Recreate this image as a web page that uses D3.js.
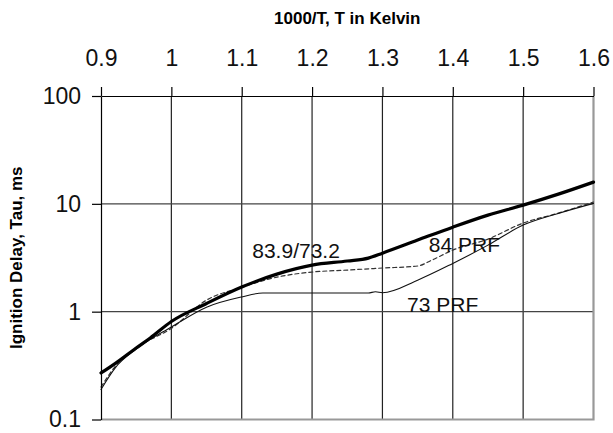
<!DOCTYPE html>
<html>
<head>
<meta charset="utf-8">
<script src="https://cdn.jsdelivr.net/npm/d3@7"></script>
<style>
	html, body { margin: 0; padding: 0; background: #fff; }
	svg { display: block; font-family: "Liberation Sans", Arial, sans-serif; }
</style>
</head>
<body>
<div id="chart"></div>
<script>
/* Axis ticks */
const xTicks = [0.9, 1.0, 1.1, 1.2, 1.3, 1.4, 1.5, 1.6];
const xTickLabels = ["0.9", "1", "1.1", "1.2", "1.3", "1.4", "1.5", "1.6"];
const yTicks = [0.1, 1, 10, 100];
const yTickLabels = ["0.1", "1", "10", "100"];

/* 83.9/73.2 blend (thick line) */
const blendX = [0.9, 0.92, 0.95, 0.97, 1.0, 1.05, 1.1, 1.15, 1.2, 1.25, 1.28, 1.3, 1.35, 1.4, 1.45, 1.5, 1.55, 1.6];
const blendTau = [0.27, 0.33, 0.46, 0.57, 0.81, 1.19, 1.69, 2.23, 2.70, 2.95, 3.14, 3.49, 4.61, 6.08, 7.86, 9.73, 12.3, 15.9];

/* 84 PRF (dashed line) */
const prf84X = [0.9, 0.92, 0.95, 1.0, 1.05, 1.1, 1.15, 1.2, 1.25, 1.3, 1.35, 1.37, 1.4, 1.45, 1.5, 1.55, 1.6];
const prf84Tau = [0.20, 0.31, 0.46, 0.70, 1.28, 1.68, 2.09, 2.33, 2.43, 2.54, 2.65, 3.0, 3.72, 4.71, 6.63, 8.20, 10.4];

/* 73 PRF (thin line) */
const prf73X = [0.9, 0.92, 0.95, 1.0, 1.05, 1.1, 1.13, 1.2, 1.28, 1.29, 1.3, 1.35, 1.4, 1.45, 1.5, 1.55, 1.6];
const prf73Tau = [0.19, 0.30, 0.45, 0.72, 1.10, 1.37, 1.49, 1.49, 1.49, 1.53, 1.50, 1.96, 2.80, 4.14, 6.35, 8.15, 10.1];

/* Curve labels */
const labelText = ["83.9/73.2", "84 PRF", "73 PRF"];
const labelX = [1.115, 1.366, 1.335];
const labelTau = [3.14, 3.57, 0.99];

let width = 613;
let height = 433;
let margin = { top: 96, right: 19.5, bottom: 13.5, left: 101 };
let innerW = width - margin.left - margin.right;
let innerH = height - margin.top - margin.bottom;

let svg = d3.select("#chart").append("svg")
	.attr("width", width)
	.attr("height", height);

let g = svg.append("g")
	.attr("transform", "translate(" + margin.left + "," + margin.top + ")");

let xScale = d3.scaleLinear().domain([0.9, 1.6]).range([0, innerW]);
let yScale = d3.scaleLog().domain([0.1, 100]).range([innerH, 0]);

// Grid lines
g.append("g").selectAll("line")
	.data(xTicks.slice(1, -1))
	.enter().append("line")
	.attr("x1", function(d) { return xScale(d); })
	.attr("x2", function(d) { return xScale(d); })
	.attr("y1", 0)
	.attr("y2", innerH)
	.attr("stroke", "#222")
	.attr("stroke-width", 1.2);

g.append("g").selectAll("line")
	.data(yTicks.slice(1, -1))
	.enter().append("line")
	.attr("x1", 0)
	.attr("x2", innerW)
	.attr("y1", function(d) { return yScale(d); })
	.attr("y2", function(d) { return yScale(d); })
	.attr("stroke", "#444")
	.attr("stroke-width", 1.4);

// Plot area border: grey right / bottom edges
g.append("path")
	.attr("d", "M" + innerW + ",0V" + innerH + "H0")
	.attr("fill", "none")
	.attr("stroke", "#999")
	.attr("stroke-width", 2.2);

// Series
let line = d3.line()
	.x(function(d) { return xScale(d[0]); })
	.y(function(d) { return yScale(d[1]); })
	.curve(d3.curveMonotoneX);

let series = [
	{ key: "84 PRF", values: d3.zip(prf84X, prf84Tau), width: 1.2, dash: "4,3", color: "#333" },
	{ key: "73 PRF", values: d3.zip(prf73X, prf73Tau), width: 1.1, dash: null, color: "#111" },
	{ key: "83.9/73.2", values: d3.zip(blendX, blendTau), width: 3.2, dash: null, color: "#000" }
];

g.append("g").selectAll("path")
	.data(series)
	.enter().append("path")
	.attr("d", function(d) { return line(d.values); })
	.attr("fill", "none")
	.attr("stroke", function(d) { return d.color; })
	.attr("stroke-width", function(d) { return d.width; })
	.attr("stroke-dasharray", function(d) { return d.dash; })
	.attr("stroke-linejoin", "round")
	.attr("stroke-linecap", "round");

// Axes
let xAxis = d3.axisTop(xScale)
	.tickValues(xTicks)
	.tickFormat(function(d, i) { return xTickLabels[i]; })
	.tickSize(9)
	.tickSizeOuter(0)
	.tickPadding(21);

let yAxis = d3.axisLeft(yScale)
	.tickValues(yTicks)
	.tickFormat(function(d, i) { return yTickLabels[i]; })
	.tickSize(9)
	.tickSizeOuter(0)
	.tickPadding(11);

let gx = g.append("g").call(xAxis);
let gy = g.append("g").call(yAxis);

[gx, gy].forEach(function(a) {
	a.select(".domain").attr("stroke", "#000").attr("stroke-width", 1.2);
	a.selectAll(".tick line").attr("stroke", "#000").attr("stroke-width", 1.2);
	a.selectAll(".tick text")
		.attr("fill", "#111")
		.style("font-size", "23px")
		.style("font-family", "'Liberation Sans', Arial, sans-serif");
});

// Curve labels
g.append("g").selectAll("text")
	.data(labelText)
	.enter().append("text")
	.attr("x", function(d, i) { return xScale(labelX[i]); })
	.attr("y", function(d, i) { return yScale(labelTau[i]); })
	.attr("fill", "#111")
	.style("font-size", "21px")
	.text(function(d) { return d; });

// Axis titles
svg.append("text")
	.attr("x", margin.left + innerW / 2)
	.attr("y", 23.5)
	.attr("text-anchor", "middle")
	.attr("fill", "#000")
	.style("font-size", "17px")
	.style("font-weight", "bold")
	.text("1000/T, T in Kelvin");

svg.append("text")
	.attr("transform", "translate(21.5," + (margin.top + innerH / 2) + ") rotate(-90)")
	.attr("text-anchor", "middle")
	.attr("fill", "#000")
	.style("font-size", "17px")
	.style("font-weight", "bold")
	.text("Ignition Delay, Tau, ms");
</script>
</body>
</html>
